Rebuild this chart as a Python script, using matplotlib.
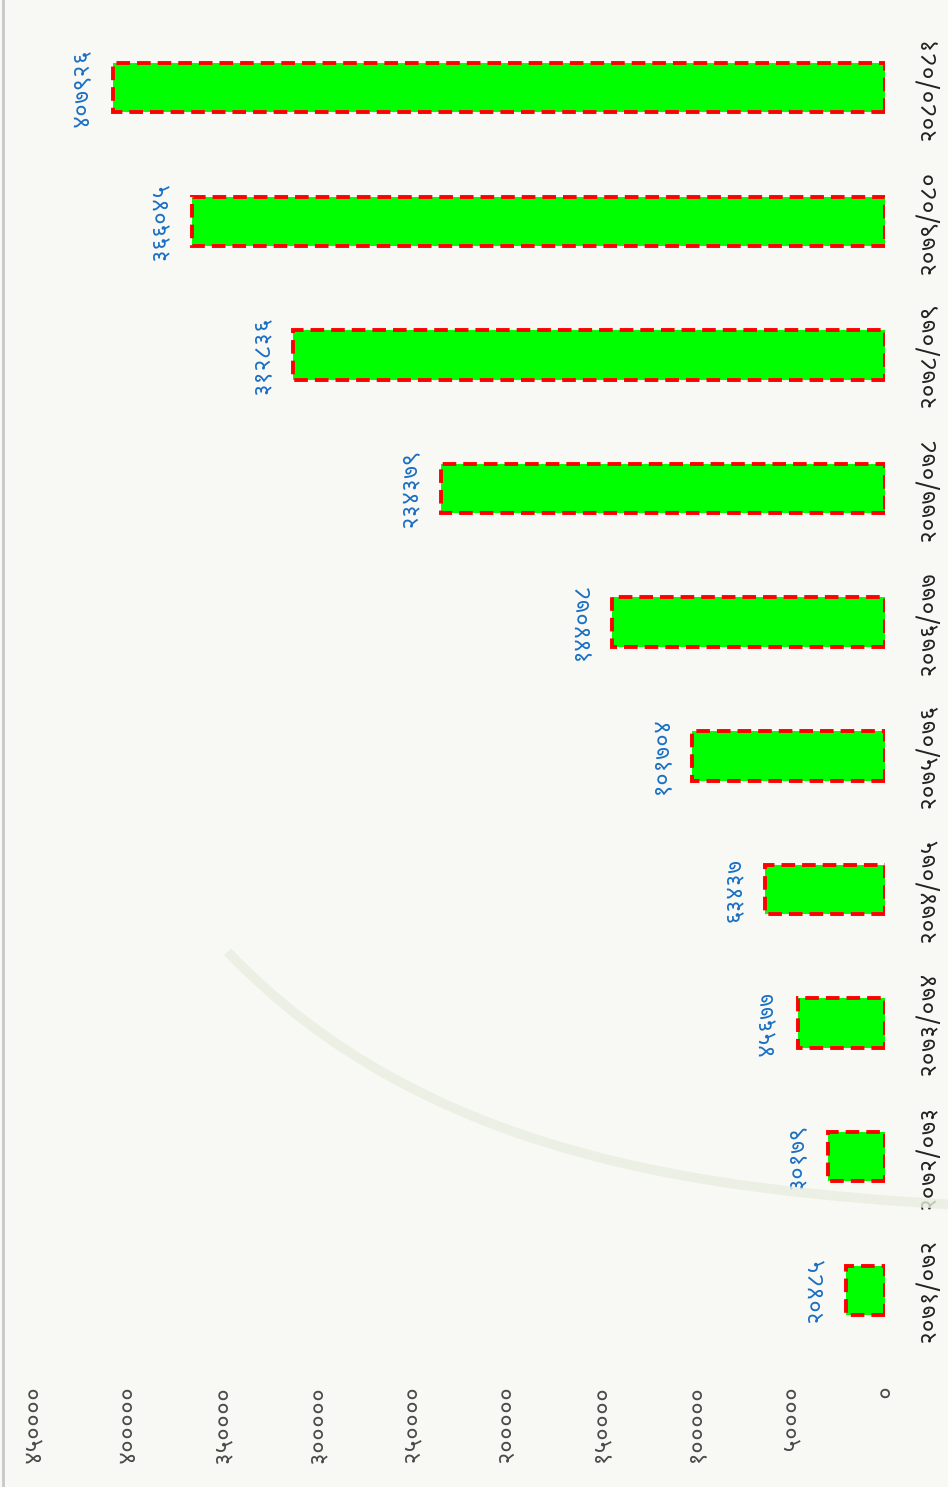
import os
import matplotlib
matplotlib.use("Agg")
import matplotlib.pyplot as plt
from matplotlib import font_manager as fm
from matplotlib.patches import PathPatch
from matplotlib.path import Path
from matplotlib.lines import Line2D

# Devanagari font (DejaVu has no Devanagari glyphs)
font_name = "DejaVu Sans"
for cand in ["NotoSansDevanagari-Regular.ttf", "NotoSansDevanagariUI-Regular.ttf",
             "Hind-Regular.ttf", "Mukta-Regular.ttf"]:
    hits = [f for f in fm.findSystemFonts() if os.path.basename(f) == cand]
    if hits:
        fm.fontManager.addfont(hits[0])
        font_name = fm.FontProperties(fname=hits[0]).get_name()
        break
plt.rcParams['font.family'] = [font_name, 'DejaVu Sans']

# Data
years = ["२०७१/०७२", "२०७२/०७३", "२०७३/०७४", "२०७४/०७५", "२०७५/०७६",
         "२०७६/०७७", "२०७७/०७८", "२०७८/०७९", "२०७९/०८०", "२०८०/०८१"]
values = [20485, 30179, 45677, 63437, 101704, 144078, 234379, 312836, 366045, 407926]
value_labels = ["२०४८५", "३०१७९", "४५६७७", "६३४३७", "१०१७०४",
                "१४४०७८", "२३४३७९", "३१२८३६", "३६६०४५", "४०७९२६"]
ticks = [0, 50000, 100000, 150000, 200000, 250000, 300000, 350000, 400000, 450000]
tick_labels = ["०", "५००००", "१०००००", "१५००००", "२०००००",
               "२५००००", "३०००००", "३५००००", "४०००००", "४५००००"]

fig = plt.figure(figsize=(9.48, 14.87), dpi=100)
fig.patch.set_facecolor('#f8f9f4')

# faint background swoosh
swoosh = Path([(0.24, 0.36), (0.45, 0.22), (0.75, 0.2), (1.0, 0.19)],
              [Path.MOVETO, Path.CURVE4, Path.CURVE4, Path.CURVE4])
fig.patches.append(PathPatch(swoosh, transform=fig.transFigure, facecolor='none',
                             edgecolor='#eaeee0', lw=7, alpha=0.8, zorder=0))
fig.add_artist(Line2D([0.003, 0.003], [0, 1], transform=fig.transFigure, color='#c8c8c8', lw=2))

ax = fig.add_axes([0.0348, 0.0874, 0.8987, 0.8985])
ax.set_facecolor('none')

pos = list(range(len(years)))
ax.barh(pos, values, height=0.37, color='#00ff00', edgecolor='#ff0000',
        linewidth=2.8, linestyle=(0, (3.5, 1.8)), zorder=3)

for p, v, lab in zip(pos, values, value_labels):
    ax.annotate(lab, xy=(v, p), xytext=(-14, 0), textcoords='offset points',
                rotation=90, ha='right', va='center', fontsize=17, color='#1a6fc4')

ax.set_xlim(450000, 0)
ax.set_ylim(-0.5, len(years) - 0.5)
ax.set_xticks(ticks)
ax.set_xticklabels(tick_labels, rotation=90, fontsize=17, color='#4a4a4a')
ax.set_yticks(pos)
ax.set_yticklabels(years, rotation=90, fontsize=17.5, color='#222222', va='center')
ax.yaxis.tick_right()
ax.tick_params(axis='x', length=0, pad=20)
ax.tick_params(axis='y', length=0, pad=22)
for s in ax.spines.values():
    s.set_visible(False)

fig.savefig("out.png", dpi=100, facecolor=fig.get_facecolor())
